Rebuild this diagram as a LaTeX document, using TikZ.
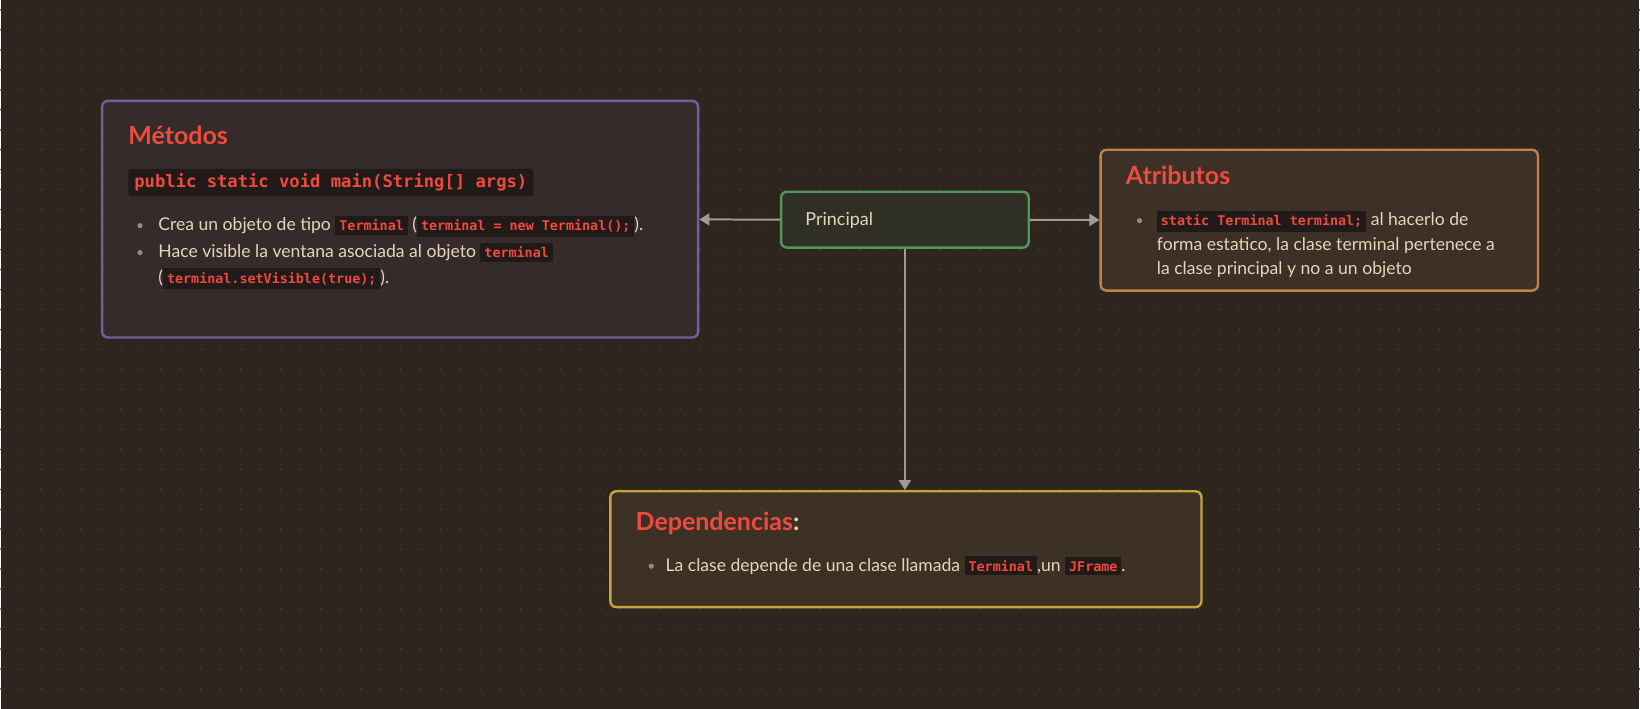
\documentclass[tikz,border=0pt]{standalone}
\usepackage{xcolor}
\usepackage{tikz}
\usepackage{fontspec}
\usetikzlibrary{arrows.meta}
\setmainfont{Lato}
\setmonofont{DejaVu Sans Mono}

\definecolor{bgcol}{HTML}{2E251F}
\definecolor{dotcol}{HTML}{41372E}
\definecolor{titlered}{HTML}{F04A3F}
\definecolor{bodytxt}{HTML}{E6D5B8}
\definecolor{bulletcol}{HTML}{9E8A6E}
\definecolor{codebg}{HTML}{201B19}
\definecolor{codefg}{HTML}{F2483D}
\definecolor{arrowcol}{HTML}{A39A94}
\definecolor{metfill}{HTML}{362B2B}
\definecolor{metline}{HTML}{7A5C9C}
\definecolor{prinfill}{HTML}{2F2F25}
\definecolor{prinline}{HTML}{4F9A5A}
\definecolor{atrfill}{HTML}{3C3027}
\definecolor{atrline}{HTML}{C08448}
\definecolor{depfill}{HTML}{3D3125}
\definecolor{depline}{HTML}{C7A23F}

\newcommand{\code}[1]{{\setlength{\fboxsep}{2pt}\colorbox{codebg}{\ttfamily\bfseries\fontsize{6.7}{8}\selectfont\color{codefg}#1}}}

\begin{document}
\begin{tikzpicture}[x=0.5pt, y=-0.5pt, anchor=center,
    box/.style={rectangle, rounded corners=3pt, line width=1.2pt},
    title/.style={anchor=base west, inner sep=0pt, text=titlered, font=\bfseries\fontsize{12.5}{14}\selectfont},
    body/.style={anchor=base west, text=bodytxt, align=left, inner sep=0pt, font=\fontsize{8.8}{12.75}\selectfont},
    dot/.style={circle, fill=bulletcol, inner sep=0pt, minimum size=2.6pt},
    conn/.style={draw=arrowcol, line width=1pt, -{Triangle[length=5pt, width=6pt]}}]
  \fill[bgcol] (0,0) rectangle (1640,710);
  \foreach \x in {0,20,...,1640}
    \foreach \y in {10,30,...,690}
      \fill[dotcol] (\x,\y) circle (0.6pt);
  \useasboundingbox (0,0) rectangle (1640,710);

  % boxes
  \node (metodos) at (399.5, 219.5) [box, draw=metline, fill=metfill, minimum width=298.5pt, minimum height=118.5pt] {};
  \node (principal) at (905, 220) [box, draw=prinline, fill=prinfill, minimum width=124pt, minimum height=28pt] {};
  \node (atributos) at (1320, 220.5) [box, draw=atrline, fill=atrfill, minimum width=219pt, minimum height=70.5pt] {};
  \node (dependencias) at (906, 550) [box, draw=depline, fill=depfill, minimum width=296pt, minimum height=58pt] {};

  % metodos (base of a multi-line node = its last line)
  \node (mettitle) at (127, 145) [title] {Métodos};
  \node (metsig) at (127, 183) [anchor=west, fill=codebg, rounded corners=1.5pt, inner xsep=3pt, inner ysep=2.5pt, text=codefg, font=\ttfamily\bfseries\fontsize{8.6}{10}\selectfont] {public static void main(String[] args)};
  \node (metdot1) at (139, 226) [dot] {};
  \node (metitem1) at (157, 231) [body] {Crea un objeto de tipo \code{Terminal} (\code{terminal = new Terminal();}).};
  \node (metdot2) at (139, 253) [dot] {};
  \node (metitem2) at (157, 283.5) [body] {Hace visible la ventana asociada al objeto \code{terminal}\\(\code{terminal.setVisible(true);}).};

  % principal
  \node (printext) at (805, 226) [body, font=\fontsize{9}{12}\selectfont] {Principal};

  % atributos
  \node (atrtitle) at (1126, 185) [title] {Atributos};
  \node (atrdot) at (1140, 221) [dot] {};
  \node (atritem) at (1157, 275) [body, font=\fontsize{8.8}{12.25}\selectfont] {\code{static Terminal terminal;} al hacerlo de\\forma estatico, la clase terminal pertenece a\\la clase principal y no a un objeto};

  % dependencias
  \node (deptitle) at (635, 531) [title] {Dependencias\textcolor{bodytxt}{:}};
  \node (depdot) at (651, 567) [dot] {};
  \node (depitem) at (665, 572) [body] {La clase depende de una clase llamada \code{Terminal},un \code{JFrame}.};

  \draw[conn] (principal) -- (metodos);
  \draw[conn] (principal) -- (atributos);
  \draw[conn] (principal.south) -- (principal.south |- dependencias.north);
\end{tikzpicture}
\end{document}
